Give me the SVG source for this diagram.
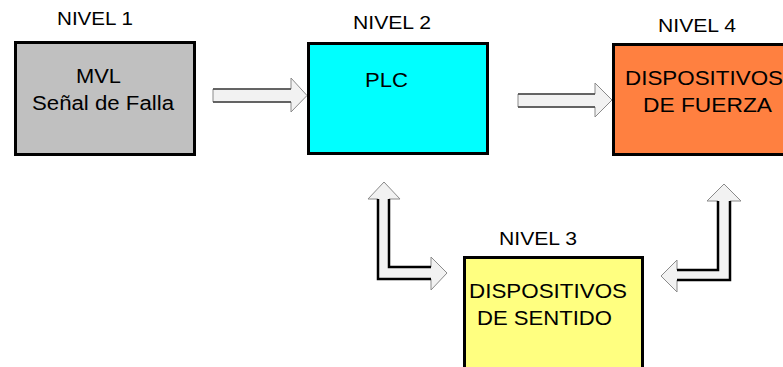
<svg xmlns="http://www.w3.org/2000/svg" width="783" height="367" viewBox="0 0 783 367">
<style>
.box{stroke:#000;stroke-width:3}
.lbl{font-family:"Liberation Sans",Arial,sans-serif;font-size:18px;fill:#000}
.txt{font-family:"Liberation Sans",Arial,sans-serif;font-size:20px;fill:#000}
.arr{fill:#f2f2f2;stroke:#8a8a8a;stroke-width:1}
.edge{fill:none;stroke:#000;stroke-width:2.5}
.sedge{fill:none;stroke:#444;stroke-width:1.5}
</style>
<rect width="783" height="367" fill="#fff"/>
<g id="connectors">
<polygon class="arr" points="213,89 291,89 291,78 307,95.5 291,112 291,102 213,102"/>
<line class="sedge" x1="213" y1="89" x2="291" y2="89"/>
<line class="sedge" x1="213" y1="102" x2="291" y2="102"/>
<polygon class="arr" points="518,94 595,94 595,83 612,100 595,117 595,107 518,107"/>
<line class="sedge" x1="518" y1="94" x2="595" y2="94"/>
<line class="sedge" x1="518" y1="107" x2="595" y2="107"/>
<polygon class="arr" points="384,182 400,199 389,199 389,267 431,267 431,257 447,273 431,290 431,279 378,279 378,199 368,199"/>
<polyline class="edge" points="389,199 389,267 431,267"/>
<polyline class="edge" points="378,199 378,279 431,279"/>
<polygon class="arr" points="724,184 741,201 730,201 730,280 677,280 677,292 661,276 677,260 677,270 718,270 718,201 707,201"/>
<polyline class="edge" points="718,201 718,270 677,270"/>
<polyline class="edge" points="730,201 730,280 677,280"/>
</g>
<g id="nivel1">
<text class="lbl" x="57" y="25" textLength="76" lengthAdjust="spacingAndGlyphs">NIVEL 1</text>
<rect class="box" x="15.5" y="42.5" width="179" height="112" fill="#c0c0c0"/>
<text class="txt" x="76" y="83" textLength="45" lengthAdjust="spacingAndGlyphs">MVL</text>
<text class="txt" x="32" y="110" textLength="142" lengthAdjust="spacingAndGlyphs">Señal de Falla</text>
</g>
<g id="nivel2">
<text class="lbl" x="353" y="29" textLength="78" lengthAdjust="spacingAndGlyphs">NIVEL 2</text>
<rect class="box" x="308.5" y="43.5" width="179" height="110" fill="#00ffff"/>
<text class="txt" x="365" y="87" textLength="43" lengthAdjust="spacingAndGlyphs">PLC</text>
</g>
<g id="nivel4">
<text class="lbl" x="658" y="32" textLength="78" lengthAdjust="spacingAndGlyphs">NIVEL 4</text>
<rect class="box" x="613.5" y="44.5" width="200" height="110" fill="#ff8040"/>
<text class="txt" x="625" y="85" textLength="158" lengthAdjust="spacingAndGlyphs">DISPOSITIVOS</text>
<text class="txt" x="643" y="112" textLength="129" lengthAdjust="spacingAndGlyphs">DE FUERZA</text>
</g>
<g id="nivel3">
<text class="lbl" x="499" y="245" textLength="78" lengthAdjust="spacingAndGlyphs">NIVEL 3</text>
<rect class="box" x="464.5" y="257.5" width="178" height="120" fill="#ffff80"/>
<text class="txt" x="469" y="298" textLength="158" lengthAdjust="spacingAndGlyphs">DISPOSITIVOS</text>
<text class="txt" x="477" y="325" textLength="135" lengthAdjust="spacingAndGlyphs">DE SENTIDO</text>
</g>
</svg>
